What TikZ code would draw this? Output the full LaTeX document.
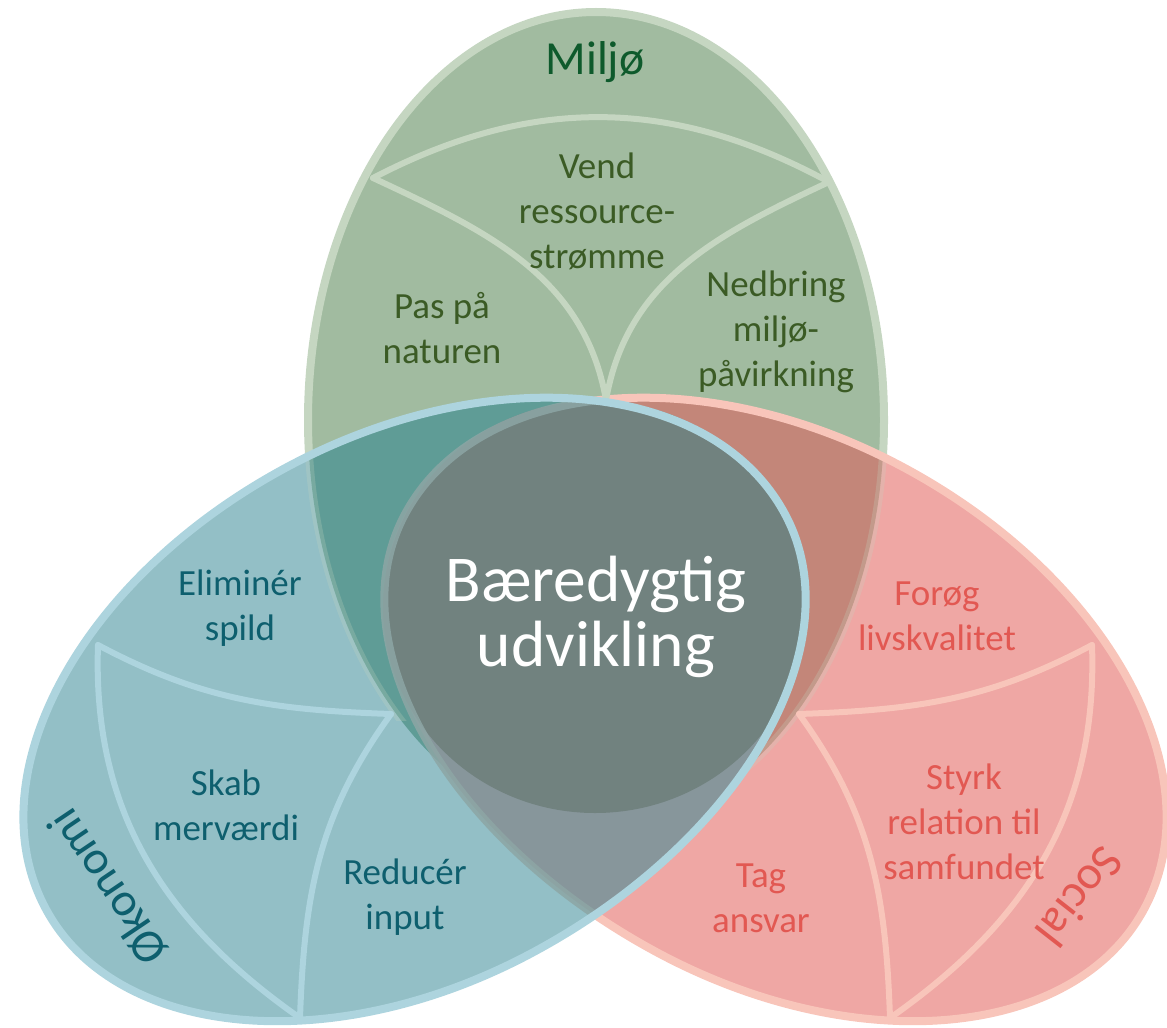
\documentclass[tikz,border=0pt]{standalone}
\usepackage{fontspec}
\setmainfont{Carlito}
\usepackage{xcolor}
\definecolor{sdgGreen}{HTML}{A1BBA0}
\definecolor{sdgGreenLine}{HTML}{C5D6C1}
\definecolor{sdgGreenText}{HTML}{3B5B25}
\definecolor{sdgGreenTitle}{HTML}{0E5A2C}
\definecolor{sdgBlue}{HTML}{93BFC6}
\definecolor{sdgBlueLine}{HTML}{ADD4DE}
\definecolor{sdgBlueText}{HTML}{0E5F6E}
\definecolor{sdgRed}{HTML}{EFA7A4}
\definecolor{sdgRedLine}{HTML}{F8C5BA}
\definecolor{sdgRedText}{HTML}{E25852}
\definecolor{sdgTeal}{HTML}{5F9C96}
\definecolor{sdgBrown}{HTML}{C38679}
\definecolor{sdgSlate}{HTML}{87969B}
\definecolor{sdgCore}{HTML}{71827F}
\definecolor{sdgRing}{HTML}{8DA6A5}
\usepackage{tikz}
\usetikzlibrary{calc}
\tikzset{
    rim/.style={
        line width=0.08cm
    },
    vein/.style={
        line width=0.06cm,
        line cap=round
    },
    blueframe/.style={
        shift={(418,710)},
        rotate=28
    },
    redframe/.style={
        shift={(772,710)},
        rotate=-28,
        xscale=-1
    },
    item/.style={
        align=center,
        font=\fontsize{10.5}{12.8}\selectfont
    },
    pillar/.style={
        font=\fontsize{13.5}{16}\selectfont
    },
    core/.style={
        align=center,
        text=white,
        font=\fontsize{18.6}{18.6}\selectfont
    }
}
\newcommand{\greenleaf}{(596,420) ellipse [x radius=288, y radius=408]}
% egg shaped leaf, drawn in its own frame
\newcommand{\leafpath}{(416,0) arc[start angle=0, end angle=90, x radius=431, y radius=268]
    arc[start angle=90, end angle=180, x radius=407, y radius=268]
    arc[start angle=180, end angle=270, x radius=422, y radius=276]
    arc[start angle=270, end angle=360, x radius=416, y radius=276] -- cycle}
\begin{document}
\begin{tikzpicture}[x=0.01cm, y=-0.01cm]
    \useasboundingbox (0,0) rectangle (1167,1027);

    % Leaves and their overlaps
    \fill[sdgGreen] \greenleaf;
    \draw[rim, sdgGreenLine] \greenleaf;
    \fill[sdgRed, redframe] \leafpath;
    \begin{scope}
        \clip \greenleaf;
        \fill[sdgBrown, redframe] \leafpath;
    \end{scope}
    \begin{scope}
        \clip[redframe] \leafpath;
        \draw[rim, sdgGreenLine, opacity=0.25] \greenleaf;
    \end{scope}
    \draw[rim, sdgRedLine, redframe] \leafpath;
    \fill[sdgBlue, blueframe] \leafpath;
    \begin{scope}
        \clip \greenleaf;
        \fill[sdgTeal, blueframe] \leafpath;
    \end{scope}
    \begin{scope}
        \clip[redframe] \leafpath;
        \fill[sdgSlate, blueframe] \leafpath;
    \end{scope}
    \begin{scope}
        \clip[blueframe] \leafpath;
        \clip (0,0) rectangle (1167,720);
        \draw[rim, sdgGreenLine, opacity=0.25] \greenleaf;
    \end{scope}

    % Junctions
    \coordinate (gL) at (373,178);
    \coordinate (gR) at (829,182);
    \coordinate (gB) at (606,400);
    \coordinate (bO) at (98,645);
    \coordinate (bI) at (391,714);
    \coordinate (bB) at (300,1018);
    \coordinate (rO) at (1092,645);
    \coordinate (rI) at (799,714);
    \coordinate (rB) at (890,1018);

    % Veins
    \draw[vein, sdgGreenLine] (gL) to[bend left=28] (gR);
    \draw[vein, sdgGreenLine] (gL) to[out=-25, in=100] (gB);
    \draw[vein, sdgGreenLine] (gR) to[out=205, in=80] (gB);
    \draw[vein, sdgBlueLine] (bO) to[out=-28, in=178] (bI);
    \draw[vein, sdgBlueLine] (bO) to[out=-92, in=145] (bB);
    \draw[vein, sdgBlueLine] (bI) to[out=-126, in=88] (bB);
    \draw[vein, sdgRedLine] (rO) to[out=208, in=2] (rI);
    \draw[vein, sdgRedLine] (rO) to[out=-88, in=35] (rB);
    \draw[vein, sdgRedLine] (rI) to[out=-54, in=92] (rB);

    % Core
    \fill[sdgCore] (595,607) ellipse [x radius=212, y radius=206];
    \begin{scope}
        \clip[blueframe] \leafpath;
        \draw[rim, sdgRing, opacity=0.85, redframe] \leafpath;
    \end{scope}
    \draw[rim, sdgBlueLine, blueframe] \leafpath;
    \node[core] (core) at (596,617) {Bæredygtig\\udvikling};

    % Labels
    \node[pillar, text=sdgGreenTitle] (miljo) at (595,62) {Miljø};
    \node[pillar, text=sdgBlueText, rotate=124] (okonomi) at (108,887) {Økonomi};
    \node[pillar, text=sdgRedText, rotate=-128] (social) at (1080,897) {Social};

    \node[item, text=sdgGreenText] (vend) at (597,211) {Vend\\ressource-\\strømme};
    \node[item, text=sdgGreenText] (pas) at (442,328) {Pas på\\naturen};
    \node[item, text=sdgGreenText] (nedbring) at (776,332) {Nedbring\\miljø-\\påvirkning};
    \node[item, text=sdgBlueText] (elim) at (240,608) {Eliminér\\spild};
    \node[item, text=sdgBlueText] (skab) at (226,805) {Skab\\merværdi};
    \node[item, text=sdgBlueText] (reducer) at (405,897) {Reducér\\input};
    \node[item, text=sdgRedText] (forog) at (937,616) {Forøg\\livskvalitet};
    \node[item, text=sdgRedText] (styrk) at (964,822) {Styrk\\relation til\\samfundet};
    \node[item, text=sdgRedText] (tag) at (761,898) {Tag\\ansvar};
\end{tikzpicture}
\end{document}
